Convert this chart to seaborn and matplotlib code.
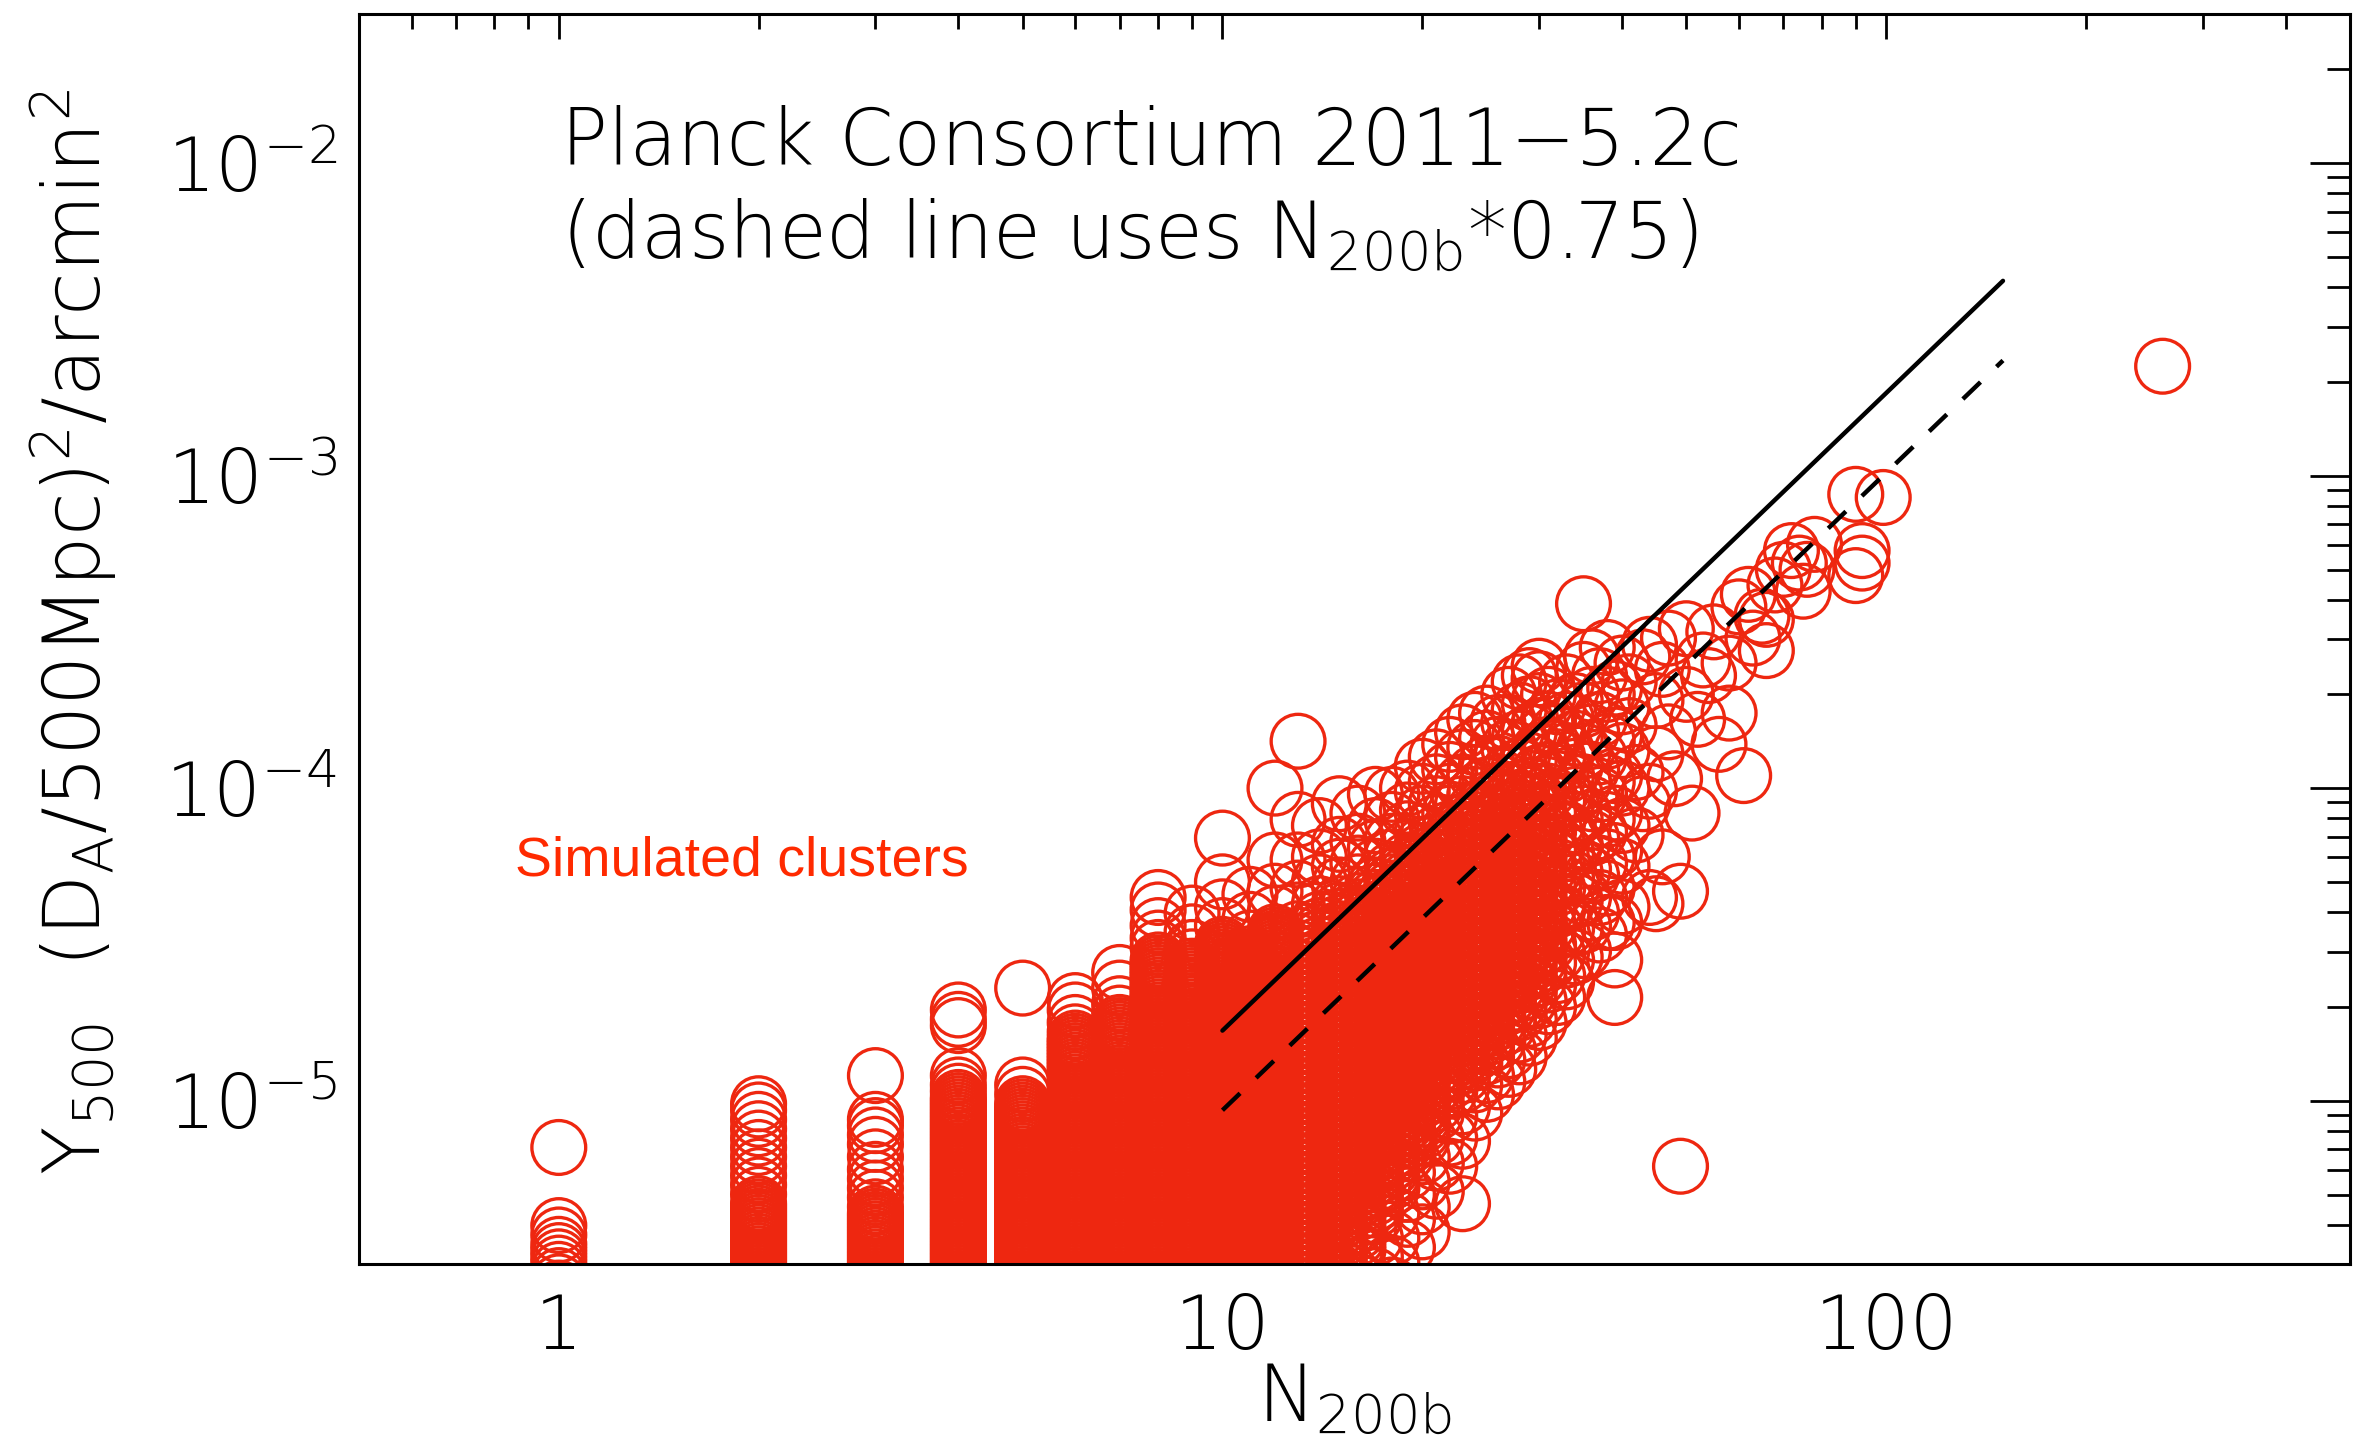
import matplotlib
matplotlib.use("Agg")
import matplotlib.pyplot as plt
import numpy as np
import pandas as pd
import seaborn as sns
from matplotlib.ticker import FixedLocator, FixedFormatter, LogLocator, NullFormatter

# ---------------------------------------------------------------------------
# Simulated clusters: log10(Y500) values for each richness N200b
# ---------------------------------------------------------------------------
log_y_n01 = [-5.15, -5.40, -5.43, -5.46, -5.48, -5.50, -5.52, -5.54, -5.56, -5.58, -5.60]
log_y_n02 = [-5.01, -5.03, -5.06, -5.09, -5.12, -5.15, -5.18, -5.21, -5.24, -5.27, -5.30,
             -5.33, -5.34, -5.35, -5.36, -5.37, -5.38, -5.39, -5.40, -5.41, -5.42, -5.43,
             -5.44, -5.45, -5.46, -5.47, -5.48, -5.49, -5.50, -5.51, -5.52, -5.53, -5.54,
             -5.55, -5.56, -5.57, -5.58, -5.59, -5.60]
log_y_n03 = [-4.92, -5.06, -5.08, -5.11, -5.14, -5.18, -5.22, -5.25, -5.28, -5.31, -5.34,
             -5.36, -5.37, -5.38, -5.39, -5.40, -5.41, -5.42, -5.43, -5.44, -5.45, -5.46,
             -5.47, -5.48, -5.49, -5.50, -5.51, -5.52, -5.53, -5.54, -5.55, -5.56, -5.57,
             -5.58, -5.59, -5.60]
log_y_n04 = [-4.71, -4.74, -4.76, -4.92, -4.95, -4.97, -4.99, -5.00, -5.01, -5.02, -5.03,
             -5.04, -5.05, -5.06, -5.07, -5.08, -5.09, -5.10, -5.11, -5.12, -5.13, -5.14,
             -5.15, -5.16, -5.17, -5.18, -5.19, -5.20, -5.21, -5.22, -5.23, -5.24, -5.25,
             -5.26, -5.27, -5.28, -5.29, -5.30, -5.31, -5.32, -5.33, -5.34, -5.35, -5.36,
             -5.37, -5.38, -5.39, -5.40, -5.41, -5.42, -5.43, -5.44, -5.45, -5.46, -5.47,
             -5.48, -5.49, -5.50, -5.51, -5.52, -5.53, -5.54, -5.55, -5.56, -5.57, -5.58,
             -5.59, -5.60]
log_y_n05 = [-4.64, -4.95, -4.98, -5.01, -5.02, -5.03, -5.04, -5.05, -5.06, -5.07, -5.08,
             -5.09, -5.10, -5.11, -5.12, -5.13, -5.14, -5.15, -5.16, -5.17, -5.18, -5.19,
             -5.20, -5.21, -5.22, -5.23, -5.24, -5.25, -5.26, -5.27, -5.28, -5.29, -5.30,
             -5.31, -5.32, -5.33, -5.34, -5.35, -5.36, -5.37, -5.38, -5.39, -5.40, -5.41,
             -5.42, -5.43, -5.44, -5.45, -5.46, -5.47, -5.48, -5.49, -5.50, -5.51, -5.52,
             -5.53, -5.54, -5.55, -5.56, -5.57, -5.58, -5.59, -5.60]
log_y_n06 = [-4.68, -4.71, -4.75, -4.78, -4.80, -4.81, -4.82, -4.83, -4.84, -4.85, -4.86,
             -4.87, -4.88, -4.89, -4.90, -4.91, -4.92, -4.93, -4.94, -4.95, -4.96, -4.97,
             -4.98, -4.99, -5.00, -5.01, -5.02, -5.03, -5.04, -5.05, -5.06, -5.07, -5.08,
             -5.09, -5.10, -5.11, -5.12, -5.13, -5.14, -5.15, -5.16, -5.17, -5.18, -5.19,
             -5.20, -5.21, -5.22, -5.23, -5.24, -5.25, -5.26, -5.27, -5.28, -5.29, -5.30,
             -5.31, -5.32, -5.33, -5.34, -5.35, -5.36, -5.37, -5.38, -5.39, -5.40, -5.41,
             -5.42, -5.43, -5.44, -5.45, -5.46, -5.47, -5.48, -5.49, -5.50, -5.51, -5.52,
             -5.53, -5.54, -5.55, -5.56, -5.57, -5.58, -5.59, -5.60]
log_y_n07 = [-4.59, -4.64, -4.69, -4.72, -4.75, -4.76, -4.77, -4.78, -4.79, -4.80, -4.81,
             -4.82, -4.83, -4.84, -4.85, -4.86, -4.87, -4.88, -4.89, -4.90, -4.91, -4.92,
             -4.93, -4.94, -4.95, -4.96, -4.97, -4.98, -4.99, -5.00, -5.01, -5.02, -5.03,
             -5.04, -5.05, -5.06, -5.07, -5.08, -5.09, -5.10, -5.11, -5.12, -5.13, -5.14,
             -5.15, -5.16, -5.17, -5.18, -5.19, -5.20, -5.21, -5.22, -5.23, -5.24, -5.25,
             -5.26, -5.27, -5.28, -5.29, -5.30, -5.31, -5.32, -5.33, -5.34, -5.35, -5.36,
             -5.37, -5.38, -5.39, -5.40, -5.41, -5.42, -5.43, -5.44, -5.45, -5.46, -5.47,
             -5.48, -5.49, -5.50, -5.51, -5.52, -5.53, -5.54, -5.55, -5.56, -5.57, -5.58,
             -5.59, -5.60]
log_y_n08 = [-4.35, -4.39, -4.44, -4.48, -4.51,
             -4.55, -4.56, -4.57, -4.58, -4.59,
             -4.60, -4.61, -4.62, -4.63, -4.64, -4.65, -4.66, -4.67, -4.68, -4.69,
             -4.70, -4.71, -4.72, -4.73, -4.74, -4.75, -4.76, -4.77, -4.78, -4.79,
             -4.80, -4.81, -4.82, -4.83, -4.84, -4.85, -4.86, -4.87, -4.88, -4.89,
             -4.90, -4.91, -4.92, -4.93, -4.94, -4.95, -4.96, -4.97, -4.98, -4.99,
             -5.00, -5.01, -5.02, -5.03, -5.04, -5.05, -5.06, -5.07, -5.08, -5.09,
             -5.10, -5.11, -5.12, -5.13, -5.14, -5.15, -5.16, -5.17, -5.18, -5.19,
             -5.20, -5.21, -5.22, -5.23, -5.24, -5.25, -5.26, -5.27, -5.28, -5.29,
             -5.30, -5.31, -5.32, -5.33, -5.34, -5.35, -5.36, -5.37, -5.38, -5.39,
             -5.40, -5.41, -5.42, -5.43, -5.44, -5.45, -5.46, -5.47, -5.48, -5.49,
             -5.50, -5.51, -5.52, -5.53, -5.54, -5.55, -5.56, -5.57, -5.58, -5.59,
             -5.60]
log_y_n09 = [-4.40, -4.46, -4.51, -4.54,
             -4.57, -4.58, -4.59,
             -4.60, -4.61, -4.62, -4.63, -4.64, -4.65, -4.66, -4.67, -4.68, -4.69,
             -4.70, -4.71, -4.72, -4.73, -4.74, -4.75, -4.76, -4.77, -4.78, -4.79,
             -4.80, -4.81, -4.82, -4.83, -4.84, -4.85, -4.86, -4.87, -4.88, -4.89,
             -4.90, -4.91, -4.92, -4.93, -4.94, -4.95, -4.96, -4.97, -4.98, -4.99,
             -5.00, -5.01, -5.02, -5.03, -5.04, -5.05, -5.06, -5.07, -5.08, -5.09,
             -5.10, -5.11, -5.12, -5.13, -5.14, -5.15, -5.16, -5.17, -5.18, -5.19,
             -5.20, -5.21, -5.22, -5.23, -5.24, -5.25, -5.26, -5.27, -5.28, -5.29,
             -5.30, -5.31, -5.32, -5.33, -5.34, -5.35, -5.36, -5.37, -5.38, -5.39,
             -5.40, -5.41, -5.42, -5.43, -5.44, -5.45, -5.46, -5.47, -5.48, -5.49,
             -5.50, -5.51, -5.52, -5.53, -5.54, -5.55, -5.56, -5.57, -5.58, -5.59,
             -5.60]
log_y_n10 = [-4.16, -4.30, -4.38, -4.44,
             -4.50, -4.51, -4.52, -4.53, -4.54, -4.55, -4.56, -4.57, -4.58, -4.59,
             -4.60, -4.61, -4.62, -4.63, -4.64, -4.65, -4.66, -4.67, -4.68, -4.69,
             -4.70, -4.71, -4.72, -4.73, -4.74, -4.75, -4.76, -4.77, -4.78, -4.79,
             -4.80, -4.81, -4.82, -4.83, -4.84, -4.85, -4.86, -4.87, -4.88, -4.89,
             -4.90, -4.91, -4.92, -4.93, -4.94, -4.95, -4.96, -4.97, -4.98, -4.99,
             -5.00, -5.01, -5.02, -5.03, -5.04, -5.05, -5.06, -5.07, -5.08, -5.09,
             -5.10, -5.11, -5.12, -5.13, -5.14, -5.15, -5.16, -5.17, -5.18, -5.19,
             -5.20, -5.21, -5.22, -5.23, -5.24, -5.25, -5.26, -5.27, -5.28, -5.29,
             -5.30, -5.31, -5.32, -5.33, -5.34, -5.35, -5.36, -5.37, -5.38, -5.39,
             -5.40, -5.41, -5.42, -5.43, -5.44, -5.45, -5.46, -5.47, -5.48, -5.49,
             -5.50, -5.51, -5.52, -5.53, -5.54, -5.55, -5.56, -5.57, -5.58, -5.59,
             -5.60]
log_y_n11 = [-4.34, -4.42, -4.48,
             -4.53, -4.54, -4.55, -4.56, -4.57, -4.58, -4.59,
             -4.60, -4.61, -4.62, -4.63, -4.64, -4.65, -4.66, -4.67, -4.68, -4.69,
             -4.70, -4.71, -4.72, -4.73, -4.74, -4.75, -4.76, -4.77, -4.78, -4.79,
             -4.80, -4.81, -4.82, -4.83, -4.84, -4.85, -4.86, -4.87, -4.88, -4.89,
             -4.90, -4.91, -4.92, -4.93, -4.94, -4.95, -4.96, -4.97, -4.98, -4.99,
             -5.00, -5.01, -5.02, -5.03, -5.04, -5.05, -5.06, -5.07, -5.08, -5.09,
             -5.10, -5.11, -5.12, -5.13, -5.14, -5.15, -5.16, -5.17, -5.18, -5.19,
             -5.20, -5.21, -5.22, -5.23, -5.24, -5.25, -5.26, -5.27, -5.28, -5.29,
             -5.30, -5.31, -5.32, -5.33, -5.34, -5.35, -5.36, -5.37, -5.38, -5.39,
             -5.40, -5.41, -5.42, -5.43, -5.44, -5.45, -5.46, -5.47, -5.48, -5.49,
             -5.50, -5.51, -5.52, -5.53, -5.54, -5.55, -5.56, -5.57, -5.58, -5.59,
             -5.60]
log_y_n12 = [-4.00, -4.23, -4.33, -4.40,
             -4.46, -4.47, -4.48, -4.49, -4.50, -4.51, -4.52, -4.53, -4.54, -4.55,
             -4.56, -4.57, -4.58, -4.59,
             -4.60, -4.61, -4.62, -4.63, -4.64, -4.65, -4.66, -4.67, -4.68, -4.69,
             -4.70, -4.71, -4.72, -4.73, -4.74, -4.75, -4.76, -4.77, -4.78, -4.79,
             -4.80, -4.81, -4.82, -4.83, -4.84, -4.85, -4.86, -4.87, -4.88, -4.89,
             -4.90, -4.91, -4.92, -4.93, -4.94, -4.95, -4.96, -4.97, -4.98, -4.99,
             -5.00, -5.01, -5.02, -5.03, -5.04, -5.05, -5.06, -5.07, -5.08, -5.09,
             -5.10, -5.11, -5.12, -5.13, -5.14, -5.15, -5.16, -5.17, -5.18, -5.19,
             -5.20, -5.21, -5.22, -5.23, -5.24, -5.25, -5.26, -5.27, -5.28, -5.29,
             -5.30, -5.31, -5.32, -5.33, -5.34, -5.35, -5.36, -5.37, -5.38, -5.39,
             -5.40, -5.41, -5.42, -5.43, -5.44, -5.45, -5.46, -5.47, -5.48, -5.49,
             -5.50, -5.51, -5.52, -5.53, -5.54, -5.55, -5.56, -5.57, -5.58, -5.59,
             -5.60]
log_y_n13 = [-3.85, -4.10, -4.23, -4.32, -4.39,
             -4.45, -4.47, -4.49, -4.51, -4.53, -4.55, -4.57, -4.59, -4.61, -4.63,
             -4.65, -4.67, -4.69, -4.71, -4.73, -4.75, -4.77, -4.79, -4.81, -4.83,
             -4.85, -4.87, -4.89, -4.91, -4.93, -4.95, -4.97, -4.99, -5.01, -5.03,
             -5.05, -5.07, -5.09, -5.11, -5.13, -5.15, -5.17, -5.19, -5.21, -5.23,
             -5.25, -5.27, -5.29, -5.31, -5.33, -5.35, -5.37, -5.39, -5.41, -5.43,
             -5.45, -5.47, -5.49, -5.51, -5.53, -5.55, -5.57, -5.59]
log_y_n14 = [-4.12, -4.22, -4.30, -4.37,
             -4.42, -4.44, -4.46, -4.48, -4.50, -4.52, -4.54, -4.56, -4.58, -4.60,
             -4.62, -4.64, -4.66, -4.68, -4.70, -4.72, -4.74, -4.76, -4.78, -4.80,
             -4.82, -4.84, -4.86, -4.88, -4.90, -4.92, -4.94, -4.96, -4.98, -5.00,
             -5.02, -5.04, -5.06, -5.08, -5.10, -5.12, -5.14, -5.16, -5.18, -5.20,
             -5.22, -5.24, -5.26, -5.28, -5.30, -5.32, -5.34, -5.36, -5.38, -5.40,
             -5.42, -5.44, -5.46, -5.48, -5.50, -5.52, -5.54, -5.56, -5.58, -5.60]
log_y_n15 = [-4.05, -4.18, -4.25, -4.31,
             -4.37, -4.39, -4.41, -4.43, -4.45, -4.47, -4.49, -4.51, -4.53, -4.55,
             -4.57, -4.59, -4.61, -4.63, -4.65, -4.67, -4.69, -4.71, -4.73, -4.75,
             -4.77, -4.79, -4.81, -4.83, -4.85, -4.87, -4.89, -4.91, -4.93, -4.95,
             -4.97, -4.99, -5.01, -5.03, -5.05, -5.07, -5.09, -5.11, -5.13, -5.15,
             -5.17, -5.19, -5.21, -5.23, -5.25, -5.27, -5.29, -5.31, -5.33, -5.35,
             -5.37, -5.39, -5.41, -5.43, -5.45, -5.47, -5.49, -5.51, -5.53, -5.55,
             -5.57, -5.59]
log_y_n16 = [-4.08, -4.17, -4.24, -4.30,
             -4.36, -4.38, -4.40, -4.42, -4.44, -4.46, -4.48, -4.50, -4.52, -4.54,
             -4.56, -4.58, -4.60, -4.62, -4.64, -4.66, -4.68, -4.70, -4.72, -4.74,
             -4.76, -4.78, -4.80, -4.82, -4.84, -4.86, -4.88, -4.90, -4.92, -4.94,
             -4.96, -4.98, -5.00, -5.02, -5.04, -5.06, -5.08, -5.10, -5.12, -5.14,
             -5.16, -5.18, -5.20, -5.22, -5.24, -5.26, -5.28, -5.30, -5.32, -5.34,
             -5.36, -5.38, -5.40, -5.42, -5.44, -5.46, -5.48, -5.53, -5.58]
log_y_n17 = [-4.02, -4.12, -4.19, -4.25,
             -4.31, -4.33, -4.35, -4.37, -4.39, -4.41, -4.43, -4.45, -4.47, -4.49,
             -4.51, -4.53, -4.55, -4.57, -4.59, -4.61, -4.63, -4.65, -4.67, -4.69,
             -4.71, -4.73, -4.75, -4.77, -4.79, -4.81, -4.83, -4.85, -4.87, -4.89,
             -4.91, -4.93, -4.95, -4.97, -4.99, -5.01, -5.03, -5.05, -5.07, -5.09,
             -5.11, -5.13, -5.15, -5.17, -5.19, -5.21, -5.23, -5.25, -5.27, -5.29,
             -5.31, -5.33, -5.35, -5.37, -5.44, -5.50, -5.56]
log_y_n18 = [-4.02, -4.10, -4.17, -4.22,
             -4.26, -4.28, -4.30, -4.32, -4.34, -4.36, -4.38, -4.40, -4.42, -4.44,
             -4.46, -4.48, -4.50, -4.52, -4.54, -4.56, -4.58, -4.60, -4.62, -4.64,
             -4.66, -4.68, -4.70, -4.72, -4.74, -4.76, -4.78, -4.80, -4.82, -4.84,
             -4.86, -4.88, -4.90, -4.92, -4.94, -4.96, -4.98, -5.00, -5.02, -5.04,
             -5.06, -5.08, -5.10, -5.12, -5.14, -5.16, -5.18, -5.20, -5.22, -5.24,
             -5.26, -5.28, -5.36, -5.44, -5.52, -5.59]
log_y_n19 = [-4.00, -4.07, -4.13, -4.19,
             -4.23, -4.25, -4.27, -4.29, -4.31, -4.33, -4.35, -4.37, -4.39, -4.41,
             -4.43, -4.45, -4.47, -4.49, -4.51, -4.53, -4.55, -4.57, -4.59, -4.61,
             -4.63, -4.65, -4.67, -4.69, -4.71, -4.73, -4.75, -4.77, -4.79, -4.81,
             -4.83, -4.85, -4.87, -4.89, -4.91, -4.93, -4.95, -4.97, -4.99, -5.01,
             -5.03, -5.05, -5.07, -5.09, -5.11, -5.13, -5.15, -5.17, -5.23, -5.30,
             -5.38, -5.47]
log_y_n20 = [-3.93, -4.01, -4.08, -4.14,
             -4.18, -4.20, -4.22, -4.24, -4.26, -4.28, -4.30, -4.32, -4.34, -4.36,
             -4.38, -4.40, -4.42, -4.44, -4.46, -4.48, -4.50, -4.52, -4.54, -4.56,
             -4.58, -4.60, -4.62, -4.64, -4.66, -4.68, -4.70, -4.72, -4.74, -4.76,
             -4.78, -4.80, -4.82, -4.84, -4.86, -4.88, -4.90, -4.92, -4.94, -4.96,
             -4.98, -5.00, -5.02, -5.04, -5.06, -5.08, -5.10, -5.12, -5.18, -5.26,
             -5.34, -5.42]
log_y_n21 = [-3.90, -3.98, -4.05, -4.11,
             -4.17, -4.20, -4.23, -4.26, -4.29, -4.32, -4.35, -4.38, -4.41, -4.44,
             -4.47, -4.50, -4.53, -4.56, -4.59, -4.62, -4.65, -4.68, -4.71, -4.74,
             -4.77, -4.80, -4.83, -4.86, -4.89, -4.92, -4.95, -4.98, -5.01, -5.04,
             -5.12, -5.20, -5.29]
log_y_n22 = [-3.86, -3.94, -4.01, -4.08,
             -4.13, -4.16, -4.19, -4.22, -4.25, -4.28, -4.31, -4.34, -4.37, -4.40,
             -4.43, -4.46, -4.49, -4.52, -4.55, -4.58, -4.61, -4.64, -4.67, -4.70,
             -4.73, -4.76, -4.79, -4.82, -4.85, -4.88, -4.91, -4.94, -4.97,
             -5.05, -5.12, -5.21]
log_y_n23 = [-3.82, -3.90, -3.98, -4.05,
             -4.11, -4.14, -4.17, -4.20, -4.23, -4.26, -4.29, -4.32, -4.35, -4.38,
             -4.41, -4.44, -4.47, -4.50, -4.53, -4.56, -4.59, -4.62, -4.65, -4.68,
             -4.71, -4.74, -4.77, -4.80, -4.83, -4.86, -4.89, -4.92, -4.95,
             -5.02, -5.13, -5.33]
log_y_n24 = [-3.78, -3.87, -3.95, -4.02,
             -4.07, -4.10, -4.13, -4.16, -4.19, -4.22, -4.25, -4.28, -4.31, -4.34,
             -4.37, -4.40, -4.43, -4.46, -4.49, -4.52, -4.55, -4.58, -4.61, -4.64,
             -4.67, -4.70, -4.73, -4.76, -4.79, -4.82, -4.85, -4.88, -4.95, -5.04]
log_y_n25 = [-3.76, -3.84, -3.92, -3.99,
             -4.05, -4.08, -4.11, -4.14, -4.17, -4.20, -4.23, -4.26, -4.29, -4.32,
             -4.35, -4.38, -4.41, -4.44, -4.47, -4.50, -4.53, -4.56, -4.59, -4.62,
             -4.65, -4.68, -4.71, -4.74, -4.77, -4.80, -4.83, -4.86, -4.92, -4.98]
log_y_n26 = [-3.79, -3.86, -3.92, -3.98,
             -4.03, -4.06, -4.09, -4.12, -4.15, -4.18, -4.21, -4.24, -4.27, -4.30,
             -4.33, -4.36, -4.39, -4.42, -4.45, -4.48, -4.51, -4.54, -4.57, -4.60,
             -4.63, -4.66, -4.69, -4.72, -4.75, -4.78, -4.81, -4.87, -4.94]
log_y_n27 = [-3.70, -3.79, -3.87, -3.95,
             -4.01, -4.04, -4.07, -4.10, -4.13, -4.16, -4.19, -4.22, -4.25, -4.28,
             -4.31, -4.34, -4.37, -4.40, -4.43, -4.46, -4.49, -4.52, -4.55, -4.58,
             -4.61, -4.64, -4.67, -4.70, -4.73, -4.76, -4.84, -4.90]
log_y_n28 = [-3.66, -3.75, -3.84, -3.93,
             -4.00, -4.03, -4.06, -4.09, -4.12, -4.15, -4.18, -4.21, -4.24, -4.27,
             -4.30, -4.33, -4.36, -4.39, -4.42, -4.45, -4.48, -4.51, -4.54, -4.57,
             -4.60, -4.63, -4.66, -4.69, -4.72, -4.79, -4.86]
log_y_n29 = [-3.64, -3.73, -3.82, -3.91,
             -3.99, -4.02, -4.05, -4.08, -4.11, -4.14, -4.17, -4.20, -4.23, -4.26,
             -4.29, -4.32, -4.35, -4.38, -4.41, -4.44, -4.47, -4.50, -4.53, -4.56,
             -4.59, -4.62, -4.65, -4.68, -4.74, -4.80]
log_y_n30 = [-3.61, -3.65, -3.72, -3.80, -3.88, -3.95,
             -4.01, -4.04, -4.07, -4.10, -4.13, -4.16, -4.19, -4.22, -4.25, -4.28,
             -4.31, -4.34, -4.37, -4.40, -4.43, -4.46, -4.49, -4.52, -4.55, -4.58,
             -4.61, -4.68, -4.75]
log_y_n31 = [-3.70, -3.78, -3.86, -3.94, -4.01, -4.08, -4.14, -4.20, -4.26, -4.32, -4.38,
             -4.44, -4.50, -4.56, -4.63, -4.70]
log_y_n32 = [-3.74, -3.82, -3.90, -3.97, -4.04, -4.11, -4.18, -4.25, -4.32, -4.39, -4.46,
             -4.53, -4.60, -4.67]
log_y_n33 = [-3.66, -3.78, -3.88, -3.96, -4.05, -4.13, -4.21, -4.29, -4.37, -4.45, -4.55,
             -4.62]
log_y_n34 = [-3.72, -3.84, -3.93, -4.02, -4.10, -4.18, -4.27, -4.36, -4.45, -4.54]
log_y_n35 = [-3.41, -3.62, -3.75, -3.88, -3.98, -4.08, -4.17, -4.26, -4.35, -4.44, -4.52]
log_y_n36 = [-3.58, -3.70, -3.82, -3.94, -4.05, -4.16, -4.28, -4.40]
log_y_n37 = [-3.64, -3.78, -3.90, -4.02, -4.14, -4.24, -4.35, -4.47]
log_y_n38 = [-3.55, -3.70, -3.85, -3.98, -4.10, -4.22, -4.32, -4.43]
log_y_n39 = [-3.68, -3.83, -3.96, -4.08, -4.20, -4.43, -4.55, -4.67]
log_y_n40 = [-3.60, -3.74, -3.88, -4.00, -4.12, -4.25, -4.38]

# Rich systems, one entry per cluster
rich_n = [41, 41, 42, 42, 43, 43, 44, 44, 44, 45, 45, 45, 46, 46, 47, 47, 48, 49, 49,
          50, 50, 51, 52, 53, 54, 55, 56, 58, 58, 60, 61, 62, 63, 65, 66, 66, 68, 70,
          72, 74, 75, 76, 78, 90, 90, 92, 92, 99, 261]
rich_log_y = [-3.66, -3.80, -3.95, -4.15, -3.58, -4.05, -3.54, -4.01, -4.35, -3.72, -3.89,
              -4.37, -3.62, -4.22, -3.52, -3.82, -3.97, -4.33, -5.21, -3.49, -3.70, -4.08,
              -3.78, -3.59, -3.64, -3.50, -3.86, -3.76, -3.60, -3.42, -3.96, -3.38, -3.52,
              -3.45, -3.46, -3.56, -3.35, -3.30, -3.24, -3.28, -3.37, -3.30, -3.22, -3.06,
              -3.32, -3.24, -3.28, -3.07, -2.65]

# Y500-N200b scaling relation (solid) and the same relation with N200b*0.75 (dashed)
fit_y_at_10 = 1.675e-5
fit_slope = 2.04
fit_n = [10, 150]
dashed_factor = 0.75

x_ticks = [1, 10, 100]
x_tick_labels = ["1", "10", "100"]
y_ticks = [1e-5, 1e-4, 1e-3, 1e-2]
y_tick_labels = [r"$10^{-5}$", r"$10^{-4}$", r"$10^{-3}$", r"$10^{-2}$"]

# ---------------------------------------------------------------------------
columns = [
    (1, log_y_n01), (2, log_y_n02), (3, log_y_n03), (4, log_y_n04), (5, log_y_n05),
    (6, log_y_n06), (7, log_y_n07), (8, log_y_n08), (9, log_y_n09), (10, log_y_n10),
    (11, log_y_n11), (12, log_y_n12), (13, log_y_n13), (14, log_y_n14), (15, log_y_n15),
    (16, log_y_n16), (17, log_y_n17), (18, log_y_n18), (19, log_y_n19), (20, log_y_n20),
    (21, log_y_n21), (22, log_y_n22), (23, log_y_n23), (24, log_y_n24), (25, log_y_n25),
    (26, log_y_n26), (27, log_y_n27), (28, log_y_n28), (29, log_y_n29), (30, log_y_n30),
    (31, log_y_n31), (32, log_y_n32), (33, log_y_n33), (34, log_y_n34), (35, log_y_n35),
    (36, log_y_n36), (37, log_y_n37), (38, log_y_n38), (39, log_y_n39), (40, log_y_n40),
]
rows = [(n, v) for n, vals in columns for v in vals] + list(zip(rich_n, rich_log_y))
clusters = pd.DataFrame(rows, columns=["N200b", "logY"])
clusters["Y500"] = 10.0 ** clusters["logY"]

fit_n_arr = np.asarray(fit_n, dtype=float)
solid_line = pd.DataFrame({"N200b": fit_n_arr,
                           "Y500": fit_y_at_10 * (fit_n_arr / 10.0) ** fit_slope})
dashed_line = pd.DataFrame({"N200b": fit_n_arr,
                            "Y500": fit_y_at_10 * (dashed_factor * fit_n_arr / 10.0) ** fit_slope})

# ---------------------------------------------------------------------------
sns.set_theme(style="white")
plt.rcParams["font.family"] = ["DejaVu Sans"]
plt.rcParams["font.weight"] = 200
plt.rcParams["mathtext.default"] = "regular"
plt.rcParams["text.color"] = "black"
plt.rcParams["axes.edgecolor"] = "black"
plt.rcParams["xtick.color"] = "black"
plt.rcParams["ytick.color"] = "black"

W, H, DPI = 2361, 1447, 200
fig = plt.figure(figsize=(W / DPI, H / DPI), dpi=DPI)
fig.patch.set_facecolor("white")
ax = fig.add_axes([359 / W, 1 - 1264 / H, 1991 / W, 1250 / H])
ax.set_xscale("log")
ax.set_yscale("log")

point_red = "#EE2710"
sns.scatterplot(data=clusters, x="N200b", y="Y500", ax=ax, marker="o", s=375,
                facecolor="none", edgecolor=point_red, linewidth=1.2, legend=False)

sns.lineplot(data=solid_line, x="N200b", y="Y500", ax=ax, color="black",
             linewidth=1.6, legend=False)
sns.lineplot(data=dashed_line, x="N200b", y="Y500", ax=ax, color="black",
             linewidth=1.6, legend=False, linestyle=(0, (5.5, 5)))

ax.set_xlim(0.5, 500)
ax.set_ylim(3e-6, 3e-2)

ax.xaxis.set_major_locator(FixedLocator(x_ticks))
ax.xaxis.set_major_formatter(FixedFormatter(x_tick_labels))
ax.xaxis.set_minor_locator(LogLocator(base=10, subs=np.arange(2, 10), numticks=20))
ax.xaxis.set_minor_formatter(NullFormatter())
ax.yaxis.set_major_locator(FixedLocator(y_ticks))
ax.yaxis.set_major_formatter(FixedFormatter(y_tick_labels))
ax.yaxis.set_minor_locator(LogLocator(base=10, subs=np.arange(2, 10), numticks=20))
ax.yaxis.set_minor_formatter(NullFormatter())

ax.tick_params(which="both", direction="in", top=True, right=True, width=1.0)
ax.tick_params(axis="x", which="major", length=9, labelsize=27, pad=10)
ax.tick_params(axis="x", which="minor", length=5.5)
ax.tick_params(axis="y", which="major", length=14.4, labelsize=27, pad=8)
ax.tick_params(axis="y", which="minor", length=8.3)
for spine in ax.spines.values():
    spine.set_linewidth(1.1)
    spine.set_color("black")

ax.set_xlabel("")
ax.set_ylabel("")

# axis titles
fig.text(1355 / W, 1 - 1422 / H, r"$N_{200b}$", fontsize=28, ha="center",
         va="baseline")
fig.text(101 / W, 1 - 632 / H, r"$Y_{500}\ \ (D_A/500Mpc)^2/arcmin^2$",
         fontsize=28.6, rotation=90, rotation_mode="anchor", ha="center", va="baseline")

# annotations inside the frame
fig.text(561 / W, 1 - 165 / H, "Planck Consortium 2011\u22125.2c", fontsize=28,
         va="baseline")
fig.text(561 / W, 1 - 259 / H, r"(dashed line uses $N_{200b}$*0.75)", fontsize=28,
         va="baseline")
fig.text(515 / W, 1 - 876 / H, "Simulated clusters", fontsize=20, color="#FF2A00",
         family=["Liberation Sans", "DejaVu Sans"], fontweight="normal", va="baseline")

fig.savefig("out.png", dpi=DPI, facecolor="white")
